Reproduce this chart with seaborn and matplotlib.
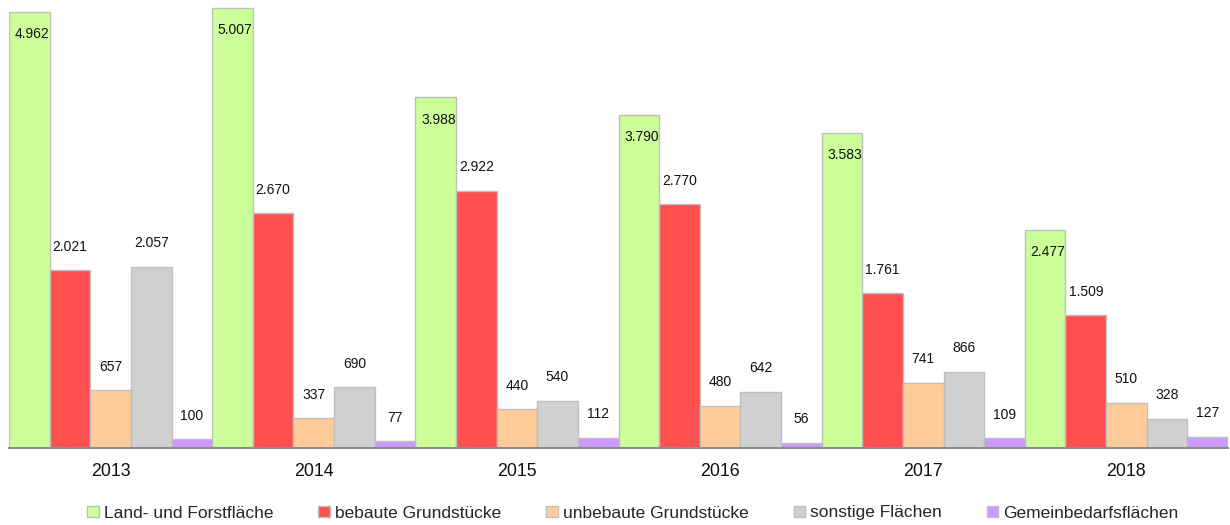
import matplotlib
matplotlib.use("Agg")
import matplotlib.pyplot as plt
import seaborn as sns
import pandas as pd
from matplotlib.patches import Patch

years = ["2013", "2014", "2015", "2016", "2017", "2018"]
categories = ["Land- und Forstfläche", "bebaute Grundstücke", "unbebaute Grundstücke",
              "sonstige Flächen", "Gemeinbedarfsflächen"]
land_forst = [4962, 5007, 3988, 3790, 3583, 2477]
bebaut = [2021, 2670, 2922, 2770, 1761, 1509]
unbebaut = [657, 337, 440, 480, 741, 510]
sonstige = [2057, 690, 540, 642, 866, 328]
gemeinbedarf = [100, 77, 112, 56, 109, 127]
series = [land_forst, bebaut, unbebaut, sonstige, gemeinbedarf]
colors = ["#CCFF99", "#FF5050", "#FFCC99", "#D0D0D0", "#CC99FF"]

rows = []
for cat, vals in zip(categories, series):
    for y, v in zip(years, vals):
        rows.append({"Jahr": y, "Kategorie": cat, "Wert": v})
df = pd.DataFrame(rows)

sns.set_theme(style="white")
plt.rcParams["font.family"] = ["Liberation Sans", "DejaVu Sans"]

fig = plt.figure(figsize=(12.3, 5.25), dpi=100)
ax = fig.add_axes([9 / 1230, 77 / 525, 1219 / 1230, 444 / 525])

sns.barplot(data=df, x="Jahr", y="Wert", hue="Kategorie", order=years,
            hue_order=categories, palette=colors, width=1.0, gap=0,
            saturation=1, ax=ax, legend=False, edgecolor="#BFBFBF", linewidth=1.0)

ax.set_xlim(-0.5, len(years) - 0.5)
ax.set_ylim(0, 5050)

def fmt(v):
    return f"{v:,}".replace(",", ".")

for ci, (cont, vals) in enumerate(zip(ax.containers, series)):
    for bar, v in zip(cont.patches, vals):
        xc = bar.get_x() + bar.get_width() / 2
        top = bar.get_height()
        if ci == 0:
            ax.annotate(fmt(v), (xc, top), xytext=(2, -11), textcoords="offset points",
                        ha="center", va="top", fontsize=10, color="#111111")
        else:
            ax.annotate(fmt(v), (xc, top), xytext=(0, 12), textcoords="offset points",
                        ha="center", va="bottom", fontsize=10, color="#111111")

for s in ["top", "left", "right"]:
    ax.spines[s].set_visible(False)
ax.spines["bottom"].set_color("#8C8C8C")
ax.spines["bottom"].set_linewidth(1.5)
ax.set_yticks([])
ax.set_xlabel("")
ax.set_ylabel("")
ax.set_xticks(range(len(years)))
ax.set_xticklabels(years, fontsize=12.8, color="#111111")
ax.tick_params(axis="x", which="major", length=0, pad=11)
ax.set_xticks([i - 0.5 for i in range(len(years) + 1)], minor=True)
ax.tick_params(axis="x", which="minor", length=7, width=1.5, color="#8C8C8C", direction="out")

handles = [Patch(facecolor=c, edgecolor="#BFBFBF", label=l) for c, l in zip(colors, categories)]
fig.legend(handles=handles, loc="center", bbox_to_anchor=(633 / 1230, 12 / 525), ncol=5,
           frameon=False, fontsize=12.5, handlelength=0.65, handleheight=0.65,
           handletextpad=0.3, columnspacing=2.6)

fig.savefig("out.png", dpi=100)
